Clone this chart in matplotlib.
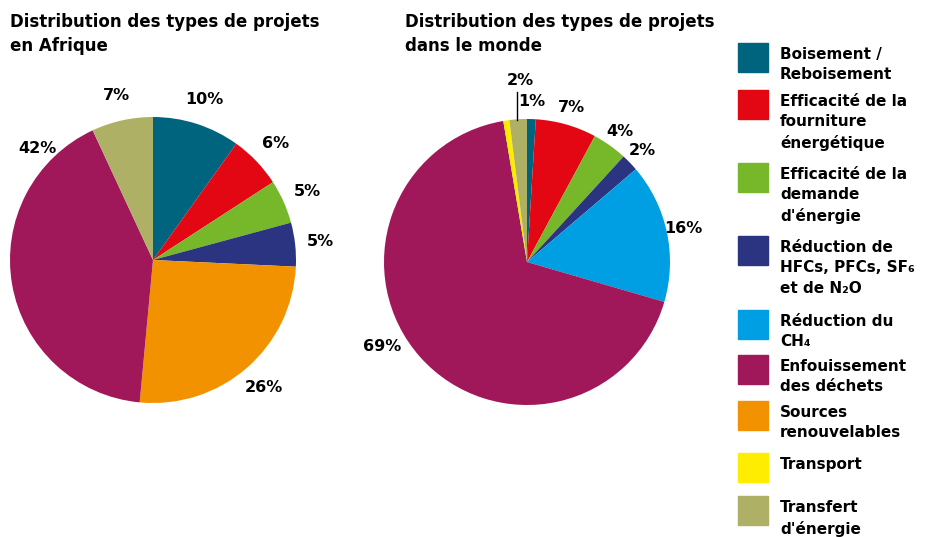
import matplotlib.pyplot as plt
from matplotlib.patches import Rectangle

plt.rcParams['font.family'] = ['DejaVu Sans']
plt.rcParams['font.weight'] = 'bold'

categories = ["Boisement /\nReboisement",
              "Efficacité de la\nfourniture\nénergétique",
              "Efficacité de la\ndemande\nd'énergie",
              "Réduction de\nHFCs, PFCs, SF₆\net de N₂O",
              "Réduction du\nCH₄",
              "Enfouissement\ndes déchets",
              "Sources\nrenouvelables",
              "Transport",
              "Transfert\nd'énergie"]
colors = ["#00647f", "#e30613", "#76b82a", "#2a3481", "#009fe3",
          "#a0185a", "#f39200", "#ffed00", "#aeb065"]

# part de chaque type (%), dans l'ordre de la legende
afrique = [10, 6, 5, 5, 0, 42, 26, 0, 7]
monde = [1, 7, 4, 2, 16, 69, 0, 0.7, 2]

# ordre des parts dans chaque camembert (sens horaire depuis le haut)
ordre_afrique = [0, 1, 2, 3, 6, 5, 8]
ordre_monde = [0, 1, 2, 3, 4, 5, 7, 8]

W, H = 944, 537
fig = plt.figure(figsize=(W / 100, H / 100), dpi=100)


def pie_axes(cx, cy, r):
    return fig.add_axes([(cx - r) / W, (H - cy - r) / H, 2 * r / W, 2 * r / H])


def draw_pie(ax, values, order, dist, hidden=()):
    vals = [values[i] for i in order]
    labs = ["" if i in hidden else f"{values[i]:g}%" for i in order]
    wedges, texts = ax.pie(vals, colors=[colors[i] for i in order], labels=labs,
                           startangle=90, counterclock=False, labeldistance=dist,
                           wedgeprops=dict(linewidth=0),
                           textprops=dict(fontsize=11.5, fontweight='bold'))
    for t in texts:
        t.set_ha('center')
        t.set_va('center')
    ax.set_xlim(-1, 1)
    ax.set_ylim(-1, 1)
    ax.set_aspect('equal')
    return texts


ax1 = pie_axes(153, 260, 143)
t1 = draw_pie(ax1, afrique, ordre_afrique, 1.18)
t1[5].set_position((-0.81, 0.78))   # 42%

ax2 = pie_axes(527, 262, 143)
t2 = draw_pie(ax2, monde, ordre_monde, 1.12, hidden=(7,))
t2[5].set_position((-1.01, -0.59))  # 69%
t2[7].set_position((-0.05, 1.27))   # 2% transfert
ax2.plot([-0.07, -0.07], [1.19, 0.99], color='black', lw=1, clip_on=False)

fig.text(10 / W, 1 - 13 / H, "Distribution des types de projets\nen Afrique",
         fontsize=12, fontweight='bold', va='top', ha='left', linespacing=1.4)
fig.text(405 / W, 1 - 13 / H, "Distribution des types de projets\ndans le monde",
         fontsize=12, fontweight='bold', va='top', ha='left', linespacing=1.4)

# legende
lax = fig.add_axes([0, 0, 1, 1])
lax.set_xlim(0, W)
lax.set_ylim(H, 0)
lax.axis('off')
tops = [43, 90, 163, 236, 310, 355, 401, 453, 496]
for top, lab, col in zip(tops, categories, colors):
    lax.add_patch(Rectangle((738, top), 30, 29, color=col))
    lax.text(780, top + 4, lab, fontsize=11, fontweight='bold', va='top',
             ha='left', linespacing=1.45)

fig.savefig("out.png", dpi=100)
